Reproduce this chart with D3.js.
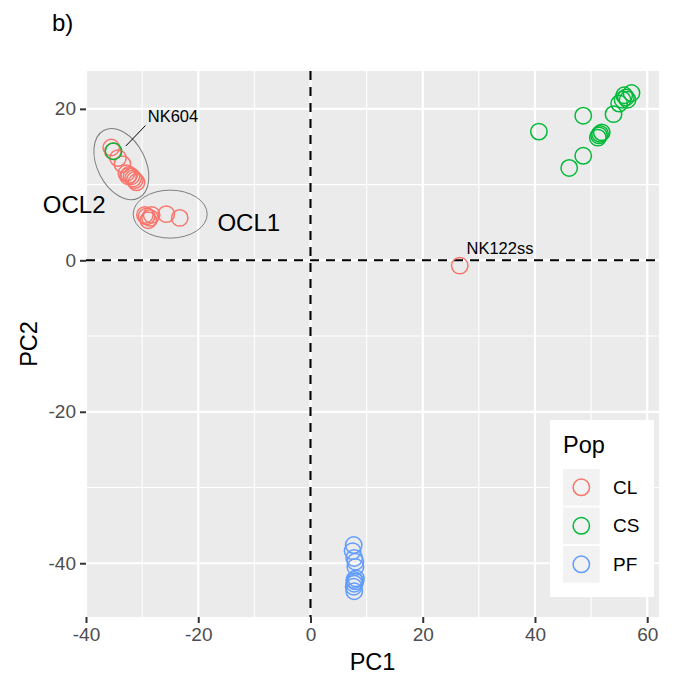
<!DOCTYPE html>
<html>
<head>
<meta charset="utf-8">
<script src="https://cdn.jsdelivr.net/npm/d3@7"></script>
<style>
	body { margin: 0; background: #ffffff; }
	text { font-family: "Liberation Sans", Arial, Helvetica, sans-serif; }
</style>
</head>
<body>
<div id="chart"></div>
<script>
// population groups and their PCA scores
var pops = ['CL', 'CS', 'PF'];
var popColors = ['#F8766D', '#00BA38', '#619CFF'];

var clPC1 = [-35.5, -35.2, -34.3, -33.5, -32.8, -32.3, -31.9, -31.6, -31.3, -31.0, -32.5,
	-29.2, -28.6, -28.9, -28.3, -29.5, -25.7, -23.3, 26.6];
var clPC2 = [14.9, 14.4, 13.5, 12.7, 11.5, 11.3, 11.1, 10.8, 10.6, 10.3, 11.1,
	5.8, 5.6, 5.3, 6.0, 6.0, 6.1, 5.6, -0.7];

var csPC1 = [-35.1, 40.7, 48.6, 54.0, 48.6, 46.1, 51.2, 51.6, 51.9, 51.4,
	55.0, 55.6, 56.2, 57.2, 56.5, 55.9];
var csPC2 = [14.4, 17.0, 19.1, 19.3, 13.8, 12.2, 16.2, 16.7, 16.9, 16.5,
	20.7, 21.2, 21.5, 22.1, 21.2, 21.8];

var pfPC1 = [7.7, 7.5, 7.8, 8.0, 8.0, 7.8, 8.0, 7.8, 7.7, 7.8, 8.1];
var pfPC2 = [-37.6, -38.4, -39.3, -39.8, -40.5, -42.2, -42.4, -42.7, -43.1, -43.7, -42.0];

var xTicks = [-40, -20, 0, 20, 40, 60];
var yTicks = [-40, -20, 0, 20];
var xMinor = [-30, -10, 10, 30, 50];
var yMinor = [-30, -10, 10];

// annotations (data units)
var clusterNames = ['OCL2', 'OCL1'];
var clusterCx = [-33.7, -25.0];
var clusterCy = [12.7, 6.1];
var clusterLabelX = [-42.1, -11.0];
var clusterLabelY = [6.3, 3.9];

var sampleNames = ['NK604', 'NK122ss'];
var sampleLabelX = [-29.0, 27.8];
var sampleLabelY = [18.3, 0.9];

const W = 677;
const H = 681;
const PANEL = { LEFT: 86, RIGHT: 659, TOP: 71, BOTTOM: 617 };

var svg = d3.select('#chart').append('svg')
	.attr('width', W)
	.attr('height', H);

var x = d3.scaleLinear().domain([-40, 62.1]).range([PANEL.LEFT, PANEL.RIGHT]);
var y = d3.scaleLinear().domain([-47.1, 25.0]).range([PANEL.BOTTOM, PANEL.TOP]);

// panel
svg.append('rect')
	.attr('x', PANEL.LEFT)
	.attr('y', PANEL.TOP)
	.attr('width', PANEL.RIGHT - PANEL.LEFT)
	.attr('height', PANEL.BOTTOM - PANEL.TOP)
	.attr('fill', '#ebebeb');

var grid = svg.append('g').attr('class', 'grid');
grid.selectAll('.xminor').data(xMinor).enter().append('line')
	.attr('x1', function (d) { return x(d); })
	.attr('x2', function (d) { return x(d); })
	.attr('y1', PANEL.TOP).attr('y2', PANEL.BOTTOM)
	.style('stroke', '#ffffff').style('stroke-width', 1.1);
grid.selectAll('.yminor').data(yMinor).enter().append('line')
	.attr('y1', function (d) { return y(d); })
	.attr('y2', function (d) { return y(d); })
	.attr('x1', PANEL.LEFT).attr('x2', PANEL.RIGHT)
	.style('stroke', '#ffffff').style('stroke-width', 1.1);
grid.selectAll('.xmajor').data(xTicks).enter().append('line')
	.attr('x1', function (d) { return x(d); })
	.attr('x2', function (d) { return x(d); })
	.attr('y1', PANEL.TOP).attr('y2', PANEL.BOTTOM)
	.style('stroke', '#ffffff').style('stroke-width', 2.2);
grid.selectAll('.ymajor').data(yTicks).enter().append('line')
	.attr('y1', function (d) { return y(d); })
	.attr('y2', function (d) { return y(d); })
	.attr('x1', PANEL.LEFT).attr('x2', PANEL.RIGHT)
	.style('stroke', '#ffffff').style('stroke-width', 2.2);

// zero lines
svg.append('line')
	.attr('x1', x(0)).attr('x2', x(0))
	.attr('y1', PANEL.TOP).attr('y2', PANEL.BOTTOM)
	.style('stroke', '#000000').style('stroke-width', 2.1)
	.style('stroke-dasharray', '9,7');
svg.append('line')
	.attr('x1', PANEL.LEFT).attr('x2', PANEL.RIGHT)
	.attr('y1', y(0)).attr('y2', y(0))
	.style('stroke', '#000000').style('stroke-width', 2.1)
	.style('stroke-dasharray', '9,7');

// axes (plain hyphen for negatives, like the original)
var fmt = function (d) { return String(d); };
var xAxis = d3.axisBottom(x).tickValues(xTicks).tickSize(6).tickPadding(5).tickFormat(fmt);
var yAxis = d3.axisLeft(y).tickValues(yTicks).tickSize(6).tickPadding(4).tickFormat(fmt);

svg.append('g')
	.attr('class', 'x axis')
	.attr('transform', 'translate(0,' + PANEL.BOTTOM + ')')
	.call(xAxis);
svg.append('g')
	.attr('class', 'y axis')
	.attr('transform', 'translate(' + PANEL.LEFT + ',0)')
	.call(yAxis);

svg.selectAll('.axis .domain').remove();
svg.selectAll('.axis line').style('stroke', '#333333').style('stroke-width', 2);
svg.selectAll('.axis text')
	.style('font-family', '"Liberation Sans", Arial, sans-serif')
	.style('font-size', '19px')
	.attr('fill', '#4d4d4d');

// points
function drawPop (xs, ys, color) {
	svg.append('g').selectAll('circle').data(xs).enter().append('circle')
		.attr('cx', function (d) { return x(d); })
		.attr('cy', function (d, i) { return y(ys[i]); })
		.attr('r', 8.2)
		.attr('fill', 'none')
		.style('stroke', color)
		.style('stroke-width', 1.5);
}
drawPop(clPC1, clPC2, popColors[0]);
drawPop(csPC1, csPC2, popColors[1]);
drawPop(pfPC1, pfPC2, popColors[2]);

// cluster ellipses
var ellipseRx = [24, 37];
var ellipseRy = [38, 24];
var ellipseRot = [-27, 0];
svg.append('g').selectAll('ellipse').data(clusterCx).enter().append('ellipse')
	.attr('transform', function (d, i) {
		return 'translate(' + x(d) + ',' + y(clusterCy[i]) + ') rotate(' + ellipseRot[i] + ')';
	})
	.attr('rx', function (d, i) { return ellipseRx[i]; })
	.attr('ry', function (d, i) { return ellipseRy[i]; })
	.attr('fill', 'none')
	.style('stroke', '#7f7f7f')
	.style('stroke-width', 1);

svg.append('g').selectAll('text').data(clusterNames).enter().append('text')
	.attr('x', function (d, i) { return x(clusterLabelX[i]); })
	.attr('y', function (d, i) { return y(clusterLabelY[i]); })
	.attr('text-anchor', 'middle')
	.style('font-size', '24px')
	.attr('fill', '#000000')
	.text(function (d) { return d; });

svg.append('g').selectAll('text').data(sampleNames).enter().append('text')
	.attr('x', function (d, i) { return x(sampleLabelX[i]); })
	.attr('y', function (d, i) { return y(sampleLabelY[i]); })
	.style('font-size', '16.5px')
	.attr('fill', '#000000')
	.text(function (d) { return d; });

// leader line for NK604
svg.append('line')
	.attr('x1', x(-29.4)).attr('y1', y(17.8))
	.attr('x2', x(-32.9)).attr('y2', y(15.1))
	.style('stroke', '#000000').style('stroke-width', 1);

// axis titles
svg.append('text')
	.attr('x', (PANEL.LEFT + PANEL.RIGHT) / 2)
	.attr('y', 670)
	.attr('text-anchor', 'middle')
	.style('font-size', '23.5px')
	.text('PC1');
svg.append('text')
	.attr('transform', 'translate(37,' + (PANEL.TOP + PANEL.BOTTOM) / 2 + ') rotate(-90)')
	.attr('text-anchor', 'middle')
	.style('font-size', '23.5px')
	.text('PC2');

// tag
svg.append('text')
	.attr('x', 52)
	.attr('y', 31)
	.style('font-size', '24px')
	.text('b)');

// legend
var legend = svg.append('g').attr('class', 'legend');
legend.append('rect')
	.attr('x', 550).attr('y', 420)
	.attr('width', 104).attr('height', 177)
	.attr('fill', '#ffffff');
legend.append('text')
	.attr('x', 563).attr('y', 453)
	.style('font-size', '23.5px')
	.text('Pop');
var keys = legend.selectAll('.key').data(pops).enter().append('g')
	.attr('transform', function (d, i) { return 'translate(563,' + (469 + i * 38.5) + ')'; });
keys.append('rect')
	.attr('width', 36.7).attr('height', 36.7)
	.attr('fill', '#f2f2f2');
keys.append('circle')
	.attr('cx', 18.3).attr('cy', 18.3).attr('r', 8.2)
	.attr('fill', 'none')
	.style('stroke', function (d, i) { return popColors[i]; })
	.style('stroke-width', 1.5);
keys.append('text')
	.attr('x', 50).attr('y', 18.3)
	.attr('dy', '0.35em')
	.style('font-size', '19px')
	.text(function (d) { return d; });
</script>
</body>
</html>
